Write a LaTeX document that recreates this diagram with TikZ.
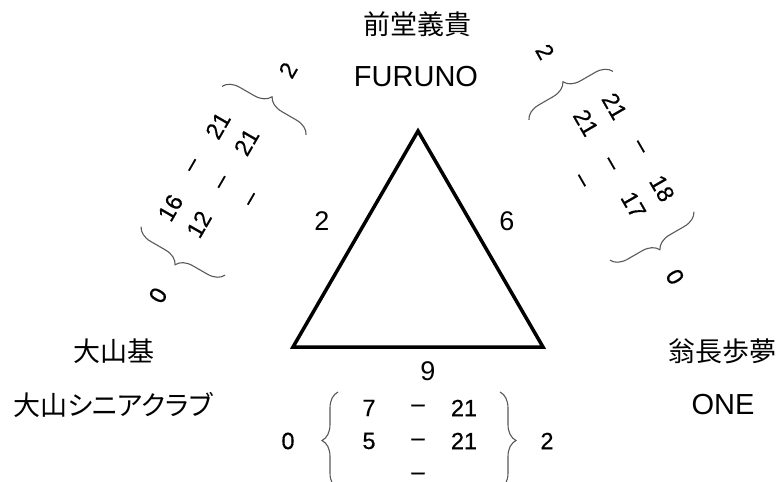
\documentclass[tikz,border=0pt]{standalone}
\usepackage{fontspec}
\setmainfont{Liberation Sans}
\newfontfamily\jpfont{Noto Sans CJK JP}
\newfontfamily\scorefont[FakeBold=0.5]{Liberation Sans}
\usetikzlibrary{decorations.pathreplacing}

\begin{document}
\begin{tikzpicture}[x=1pt,y=-1pt,
  player/.style={inner sep=0pt, font=\jpfont\fontsize{27}{30}\selectfont},
  team/.style={inner sep=0pt, font=\fontsize{29}{31}\selectfont},
  sidenum/.style={inner sep=0pt, font=\fontsize{27}{30}\selectfont},
  score/.style={inner sep=0pt, transform shape, font=\scorefont\fontsize{23.5}{25}\selectfont},
  scorebrace/.style={draw=black!65, line width=1.1pt, decorate, decoration={brace, amplitude=16pt}}]
\useasboundingbox (0,0) rectangle (782,482);

% Triangle
\coordinate (apex) at (418,131);
\coordinate (cornerL) at (293,347);
\coordinate (cornerR) at (543,347);
\draw [line width=3.5pt, line join=miter] (apex) -- (cornerL) -- (cornerR) -- cycle;

% Side Numbers
\node [sidenum] (sideL) at (322,221) {2};
\node [sidenum] (sideR) at (507,221) {6};
\node [sidenum] (sideB) at (428,371) {9};

% Text Nodes
\node [player] (nameT) at (417,24) {前堂義貴};
\node [team] (teamT) at (416,77) {FURUNO};

\node [player] (nameL) at (114,351) {大山基};
\node [player] (teamL) at (113,405) {\addfontfeatures{RawFeature=+palt}大山シニアクラブ};

\node [player] (nameR) at (722,351) {翁長歩夢};
\node [team] (teamR) at (723,405) {ONE};

% Score left side
\begin{scope}[shift={(224,181)}, rotate=60]
\node [score] (l0) at (-132,0) {0};
\draw [scorebrace] (-81,48) -- (-81,-49);
\node [score] (l1a) at (-50,-33) {16};
\node [score] (l1d) at (-2,-33) {–};
\node [score] (l1b) at (45,-33) {21};
\node [score] (l2a) at (-50,0) {12};
\node [score] (l2d) at (-2,1) {–};
\node [score] (l2b) at (45,0) {21};
\node [score] (l3d) at (-2,35) {–};
\draw [scorebrace] (81,-49) -- (81,48);
\node [score] (l2) at (128,0) {2};
\end{scope}

% Score right side
\begin{scope}[shift={(611,166)}, rotate=-60]
\node [score] (r2) at (-132,0) {2};
\draw [scorebrace] (-81,48) -- (-81,-49);
\node [score] (r1a) at (-50,-33) {21};
\node [score] (r1d) at (-2,-33) {–};
\node [score] (r1b) at (45,-33) {18};
\node [score] (r2a) at (-50,0) {21};
\node [score] (r2d) at (-2,1) {–};
\node [score] (r2b) at (45,0) {17};
\node [score] (r3d) at (-2,35) {–};
\draw [scorebrace] (81,-49) -- (81,48);
\node [score] (r0) at (128,0) {0};
\end{scope}

% Score bottom side
\begin{scope}[shift={(419,441)}]
\node [score] (b0) at (-131,0) {0};
\draw [scorebrace] (-81,48) -- (-81,-49);
\node [score] (b1a) at (-50,-33) {7};
\node [score] (b1d) at (-1,-33) {–};
\node [score] (b1b) at (45,-33) {21};
\node [score] (b2a) at (-50,0) {5};
\node [score] (b2d) at (-1,1) {–};
\node [score] (b2b) at (45,0) {21};
\node [score] (b3d) at (-1,35) {–};
\draw [scorebrace] (81,-49) -- (81,48);
\node [score] (b2) at (128,0) {2};
\end{scope}

\end{tikzpicture}
\end{document}
